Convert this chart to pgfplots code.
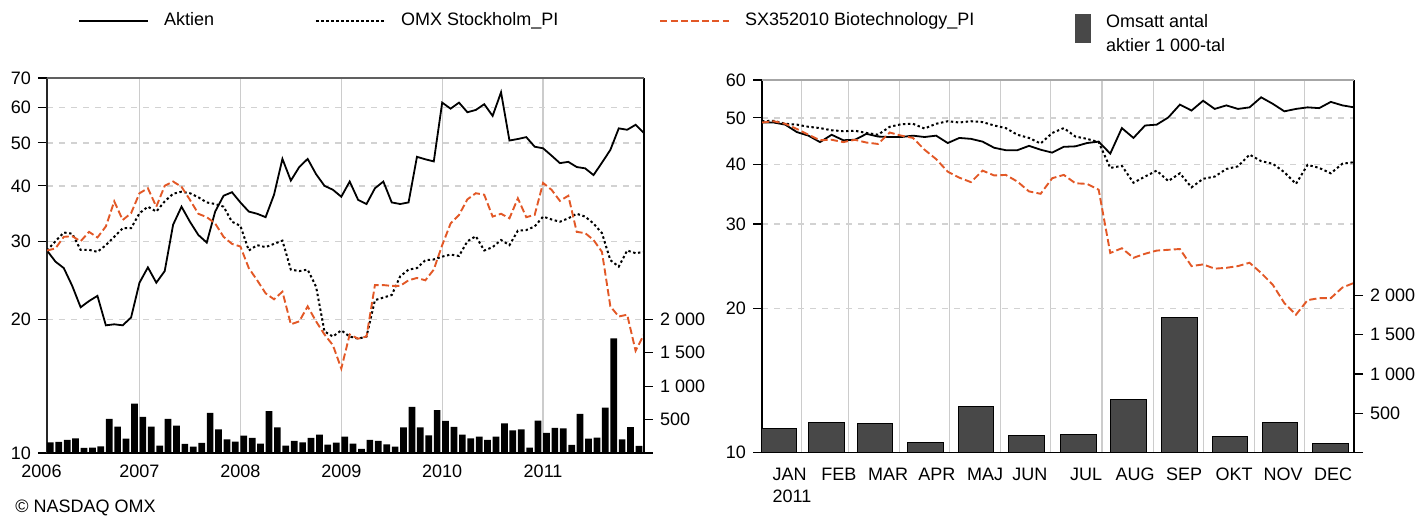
\documentclass[border=0pt]{standalone}
\usepackage{fontspec}
\setmainfont{Liberation Sans}
\usepackage{pgfplots}
\usepackage{pgfplotstable}
\pgfplotsset{compat=1.18}
\definecolor{bio}{RGB}{226,88,38}
\definecolor{volbar}{RGB}{72,72,72}

\pgfplotstableread{
m akt omx bio
1 28.6 28.6 28.6
2 27.0 30.0 28.9
3 26.1 31.4 30.7
4 23.8 31.2 30.8
5 21.3 28.7 30.0
6 22.0 28.7 31.5
7 22.6 28.4 30.6
8 19.4 29.4 32.4
9 19.5 30.7 36.9
10 19.4 32.1 33.5
11 20.2 32.1 34.7
12 24.2 34.7 38.5
13 26.2 35.9 39.5
14 24.2 35.0 35.9
15 25.7 36.9 40.0
16 32.7 38.4 40.9
17 35.9 38.8 39.8
18 33.2 38.5 37.2
19 31.0 37.7 34.6
20 29.8 36.7 34.0
21 35.0 36.4 32.9
22 38.0 35.9 30.7
23 38.7 33.2 29.6
24 36.7 32.5 29.2
25 35.0 28.6 26.1
26 34.6 29.4 24.5
27 34.0 29.1 22.9
28 38.2 29.6 22.2
29 46.0 30.1 23.1
30 41.1 25.9 19.5
31 44.1 25.7 19.8
32 46.0 25.9 21.4
33 42.5 23.7 19.8
34 40.0 18.8 18.5
35 39.2 18.3 17.5
36 37.8 18.9 15.5
37 40.9 18.3 18.5
38 37.2 18.1 18.1
39 36.4 18.3 18.3
40 39.5 22.1 23.9
41 40.9 22.4 23.9
42 36.7 22.7 23.8
43 36.4 25.0 23.8
44 36.7 25.9 24.5
45 46.5 26.1 24.8
46 45.9 27.2 24.5
47 45.4 27.3 25.9
48 61.6 27.7 29.4
49 59.7 28.0 32.9
50 61.6 27.8 34.4
51 58.6 30.0 37.3
52 59.3 30.8 38.5
53 61.1 28.6 38.2
54 57.5 29.1 34.1
55 65.0 30.2 34.6
56 50.6 29.4 33.8
57 51.0 31.7 37.5
58 51.5 31.8 34.0
59 49.0 32.4 34.4
60 48.6 34.1 40.6
61 46.8 33.6 39.2
62 45.0 33.2 37.0
63 45.3 33.8 38.0
64 44.1 34.6 31.5
65 43.8 34.1 31.3
66 42.3 32.9 30.2
67 45.1 31.3 28.4
68 48.2 27.2 21.4
69 53.9 26.3 20.3
70 53.5 28.6 20.5
71 54.9 28.2 17.0
72 52.6 28.4 18.5
}\leftlines

\pgfplotstableread{
k vol
1 160
2 165
3 195
4 220
5 75
6 80
7 100
8 510
9 395
10 215
11 740
12 540
13 395
14 110
15 510
16 410
17 135
18 95
19 150
20 600
21 355
22 205
23 170
24 260
25 225
26 140
27 625
28 385
29 110
30 180
31 160
32 225
33 275
34 125
35 155
36 245
37 140
38 60
39 195
40 180
41 130
42 95
43 385
44 690
45 385
46 265
47 640
48 480
49 390
50 275
51 220
52 245
53 195
54 245
55 445
56 340
57 355
58 80
59 485
60 300
61 377
62 369
63 122
64 586
65 216
66 229
67 679
68 1715
69 204
70 386
71 106
}\leftvol

\pgfplotstableread{
d akt omx bio
7 48.9 49.2 48.9
14 48.9 49.3 49.2
21 48.4 48.6 48.6
28 46.7 48.4 47.4
35 45.9 47.9 46.1
42 44.5 47.6 44.9
49 46.1 47.1 45.0
56 44.9 46.9 44.5
63 45.0 47.0 45.0
70 46.3 46.5 44.4
77 45.7 46.1 44.1
84 45.6 47.9 46.6
91 45.6 48.5 45.9
98 45.9 48.6 45.4
105 45.6 47.5 42.9
112 45.9 48.6 41.0
119 44.3 49.2 38.6
126 45.4 48.9 37.5
133 45.2 49.2 36.7
140 44.6 49.0 38.8
147 43.3 48.2 37.9
154 42.8 47.6 38.0
161 42.8 46.1 36.8
168 43.7 45.4 35.1
175 42.9 44.2 34.7
182 42.3 46.5 37.4
189 43.5 47.6 38.0
196 43.6 45.7 36.5
203 44.3 45.2 36.4
210 44.6 44.5 35.4
217 42.1 39.3 26.1
224 47.6 39.7 26.7
231 45.4 36.6 25.5
238 48.2 37.7 26.0
245 48.4 38.8 26.4
252 50.1 36.9 26.5
259 53.3 38.3 26.6
266 51.8 35.8 24.5
273 54.3 37.3 24.7
280 52.2 37.7 24.2
287 53.1 39.1 24.3
294 52.2 39.6 24.5
301 52.6 41.9 24.9
308 55.2 40.6 23.7
315 53.5 40.1 22.4
322 51.6 38.5 20.5
329 52.2 36.4 19.4
336 52.6 39.9 20.8
343 52.4 39.3 21.0
350 54.0 38.3 21.0
357 53.1 40.1 22.1
364 52.6 40.4 22.6
}\rightlines

\pgfplotstableread{
d vol
17.3 301
45.9 377
75.2 369
105.6 122
136.1 586
166.5 216
197.9 229
228.0 679
258.8 1715
289.3 204
319.4 386
349.9 106
}\rightvol

\pgfplotsset{
  base/.style={scale only axis, anchor=south west, tick align=outside,
    major tick length=4.5pt, /pgf/number format/assume math mode=true,
    tick style={black, line width=0.6pt},
    tick label style={font=\fontsize{9}{11.3}\selectfont}},
  aktstyle/.style={black, line width=0.9pt},
  omxstyle/.style={black, line width=1pt, dash pattern=on 1.2pt off 1.3pt},
  biostyle/.style={bio, line width=0.95pt, dash pattern=on 3.6pt off 1.6pt},
}

\begin{document}
\begin{tikzpicture}[font=\fontsize{9}{11.5}\selectfont]
\path[use as bounding box] (0,0) rectangle (708.5pt,257.5pt);

% ---------- left panel: prices ----------
\begin{axis}[base, at={(23.5pt,31pt)}, width=298.5pt, height=187.5pt,
  xmin=1, xmax=72, ymode=log, ymin=10, ymax=70,
  axis x line*=bottom, axis y line*=left, axis line style={-},
  x axis line style={black, line width=0.8pt},
  y axis line style={black!85, line width=1.1pt},
  xtick={1,12,24,36,48,60},
  xticklabels={\makebox[0pt]{\hspace*{-5.5pt}2006},2007,2008,2009,2010,2011},
  x tick style={draw=none}, xmajorgrids, x grid style={gray!40, line width=0.6pt},
  xticklabel style={yshift=2pt},
  ytick={10,20,30,40,50,60,70}, yticklabels={10,20,30,40,50,60,70},
  ymajorgrids, y grid style={gray!35, dash pattern=on 3pt off 3pt, line width=0.7pt},
  legend image code/.code={\draw[#1] (0pt,0pt) -- (34.5pt,0pt);},
  legend style={draw=none, fill=none, at={(axis description cs:0.0419,1.19)},
    anchor=north west, legend columns=4, legend cell align=left,
    font=\fontsize{9}{11.5}\selectfont,
    nodes={inner sep=0pt},
    /tikz/every odd column/.append style={column sep=7.5pt},
    /tikz/every even column/.append style={column sep=50.5pt}},
  ]
\addplot[aktstyle] table[x=m, y=akt]{\leftlines};
\addlegendentry{Aktien}
\addplot[omxstyle] table[x=m, y=omx]{\leftlines};
\addlegendentry{OMX Stockholm\_PI}
\addplot[biostyle] table[x=m, y=bio]{\leftlines};
\addlegendentry{SX352010 Biotechnology\_PI}
\addlegendimage{legend image code/.code={\fill[volbar] (0pt,-11pt) rectangle (7.5pt,3pt);}}
\addlegendentry{\raisebox{0pt}[\height][0pt]{\begin{tabular}[t]{@{}l@{}}Omsatt antal\\[0.5pt]aktier 1 000-tal\end{tabular}}}
\end{axis}

% ---------- left panel: volume ----------
\begin{axis}[base, at={(23.5pt,31pt)}, width=298.5pt, height=187.5pt,
  xmin=1, xmax=72, ymin=0, ymax=5610, clip=false,
  axis x line=none, axis y line*=right, axis line style={-, black, line width=0.6pt},
  ytick={0,500,1000,1500,2000}, yticklabels={,500,1 000,1 500,2 000},
  ]
\addplot[ybar, bar width=3.35pt, bar shift=0pt, fill=black, draw=none]
  table[x expr=\thisrow{k}+0.4, y=vol]{\leftvol};
\draw[gray!75!black, line width=0.8pt] (rel axis cs:0,1) -- (rel axis cs:1,1);
\end{axis}

% ---------- right panel: prices ----------
\begin{axis}[base, at={(381pt,31.35pt)}, width=296pt, height=186.15pt,
  xmin=7, xmax=364, ymode=log, ymin=10, ymax=60,
  axis x line*=bottom, axis y line*=left, axis line style={-},
  x axis line style={black, line width=0.8pt},
  y axis line style={black, line width=0.9pt},
  xtick={31,59,90,120,151,181,212,243,273,304,334}, xticklabels={},
  major x tick style={draw=none}, xmajorgrids, x grid style={gray!40, line width=0.6pt},
  extra x ticks={25.1,53.4,83,112.5,141.5,168.6,202.4,232,261.5,291.7,321.2,351.4},
  extra x tick labels={{JAN\\2011},FEB,MAR,APR,MAJ,JUN,JUL,AUG,SEP,OKT,NOV,DEC},
  extra x tick style={grid=none, major tick length=0pt,
    xticklabel style={align=left, yshift=-4.2pt}},
  ytick={10,20,30,40,50,60}, yticklabels={10,20,30,40,50,60},
  ymajorgrids, y grid style={gray!35, dash pattern=on 3pt off 3pt, line width=0.7pt},
  ]
\addplot[aktstyle] table[x=d, y=akt]{\rightlines};
\addplot[omxstyle] table[x=d, y=omx]{\rightlines};
\addplot[biostyle] table[x=d, y=bio]{\rightlines};
\end{axis}

% ---------- right panel: volume ----------
\begin{axis}[base, at={(381pt,31.35pt)}, width=296pt, height=186.15pt,
  xmin=7, xmax=364, ymin=0, ymax=4750, clip=false,
  axis x line=none, axis y line*=right, axis line style={-, black, line width=0.6pt},
  ytick={0,500,1000,1500,2000}, yticklabels={,500,1 000,1 500,2 000},
  ]
\addplot[ybar, bar width=17.75pt, bar shift=0pt, fill=volbar, draw=black, line width=0.5pt]
  table[x=d, y=vol]{\rightvol};
\draw[gray!70, line width=1pt] (rel axis cs:0,1) -- (rel axis cs:1,1);
\end{axis}

\node[anchor=west, inner sep=0pt] at (7.5pt,3.5pt) {© NASDAQ OMX};
\end{tikzpicture}
\end{document}
